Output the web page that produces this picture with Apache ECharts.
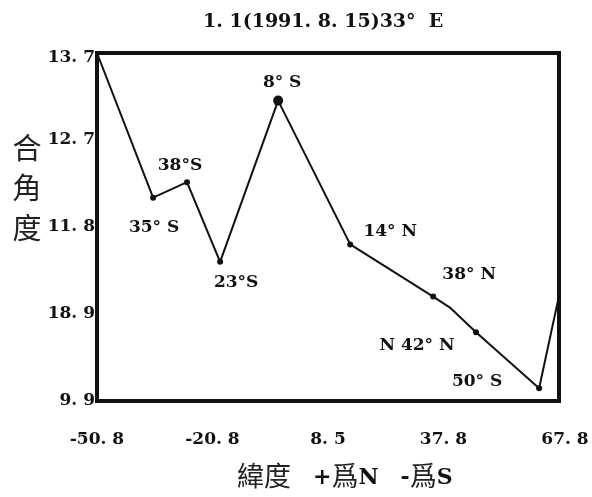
<!DOCTYPE html>
<html>
<head>
<meta charset="utf-8">
<script src="https://cdn.jsdelivr.net/npm/echarts@6/dist/echarts.min.js"></script>
<style>
  html, body { margin: 0; padding: 0; background: #fff; }
  #chart { width: 592px; height: 497px; }
</style>
</head>
<body>
<div id="chart"></div>
<script>
// Latitude (x) against closing angle (y) along the 33° E profile
const latitudes = [-50.8, -36.4, -27.7, -19.2, -4.3, 14.2, 35.5, 39.8, 46.5, 62.7, 67.6];
const angles    = [13.7, 12.12, 12.29, 11.42, 13.18, 11.61, 11.04, 10.92, 10.65, 10.04, 11.01];
const pointNames = ['', '35° S', '38°S', '23°S', '8° S', '14° N', '38° N', '', 'N 42° N', '50° S', ''];

const xTickLabels = ['-50. 8', '-20. 8', '8. 5', '37. 8', '67. 8'];
const yTickLabels = ['9. 9', '18. 9', '11. 8', '12. 7', '13. 7'];

const titleText = '1. 1(1991. 8. 15)33°  E';
const yName = ['合', '角', '度'];

const X_MIN = -50.8, X_MAX = 67.8;
const Y_MIN = 9.9, Y_MAX = 13.7;

// label placement around each marker (pixels)
const labelOffsets = [null, [1, 30], [-7, -17], [16, 21], [4, -18], [40, -13], [36, -22], null, [-59, 13], [-62, -7], null];
const bigMarker = '8° S';

function evenTicks(min, max, n) {
  const out = [];
  for (let i = 0; i < n; i++) out.push(+(min + (max - min) * i / (n - 1)).toFixed(4));
  return out;
}
const xTickValues = evenTicks(X_MIN, X_MAX, xTickLabels.length);
const yTickValues = evenTicks(Y_MIN, Y_MAX, yTickLabels.length);

function nearestIndex(values, v) {
  let best = 0;
  for (let i = 1; i < values.length; i++) {
    if (Math.abs(values[i] - v) < Math.abs(values[best] - v)) best = i;
  }
  return best;
}

const SERIF = 'DejaVu Serif';
const CJK = 'Noto Sans CJK TC';

const tickFont = {
  color: '#111',
  fontFamily: SERIF,
  fontWeight: 'bold',
  fontSize: 17
};

const seriesData = latitudes.map((x, i) => {
  const name = pointNames[i];
  const item = { value: [x, angles[i]] };
  if (!name) {
    item.symbolSize = 0;
    item.label = { show: false };
  } else {
    item.symbolSize = name === bigMarker ? 10 : 6;
    item.label = Object.assign({
      show: true,
      position: 'inside',
      offset: labelOffsets[i],
      formatter: name
    }, tickFont);
  }
  return item;
});

const chart = echarts.init(document.getElementById('chart'), null, { renderer: 'canvas' });

chart.setOption({
  backgroundColor: '#fff',
  animation: false,
  grid: {
    left: 97, top: 53, width: 462, height: 348,
    show: true,
    borderColor: '#111',
    borderWidth: 4,
    backgroundColor: 'transparent'
  },
  xAxis: {
    type: 'value',
    min: X_MIN,
    max: X_MAX,
    axisLine: { show: false },
    axisTick: { show: false },
    splitLine: { show: false },
    axisLabel: Object.assign({
      customValues: xTickValues,
      margin: 30,
      formatter: v => {
        const i = nearestIndex(xTickValues, v);
        return i === xTickLabels.length - 1 ? '{end|' + xTickLabels[i] + '}' : xTickLabels[i];
      },
      rich: { end: Object.assign({ padding: [0, 0, 0, 12] }, tickFont) }
    }, tickFont)
  },
  yAxis: {
    type: 'value',
    min: Y_MIN,
    max: Y_MAX,
    axisLine: { show: false },
    axisTick: { show: false },
    splitLine: { show: false },
    axisLabel: Object.assign({
      customValues: yTickValues,
      margin: 2,
      formatter: v => {
        const i = nearestIndex(yTickValues, v);
        return i === yTickLabels.length - 1 ? '{top|' + yTickLabels[i] + '}' : yTickLabels[i];
      },
      rich: { top: Object.assign({ padding: [10, 0, 0, 0] }, tickFont) }
    }, tickFont)
  },
  graphic: [
    {
      type: 'text',
      left: 203, top: 13,
      style: {
        text: titleText,
        fill: '#111',
        font: 'bold 19px "' + SERIF + '"'
      }
    },
    {
      type: 'text',
      x: 27, y: 188,
      style: {
        text: yName.join('\n'),
        fill: '#222',
        font: '29px "' + CJK + '"',
        lineHeight: 40,
        align: 'center',
        verticalAlign: 'middle'
      }
    },
    {
      type: 'text',
      left: 237, top: 462,
      style: {
        text: '{c|緯度}{g| }{l|+}{c|爲}{l|N}{g| }{l|-}{c|爲}{l|S}',
        rich: {
          c: { fontFamily: CJK, fontSize: 27, fill: '#222', verticalAlign: 'bottom' },
          l: { fontFamily: SERIF, fontWeight: 'bold', fontSize: 22, fill: '#111', verticalAlign: 'bottom' },
          g: { width: 22, fontSize: 22 }
        }
      }
    }
  ],
  series: [{
    type: 'line',
    data: seriesData,
    symbol: 'circle',
    showSymbol: true,
    itemStyle: { color: '#111' },
    lineStyle: { color: '#111', width: 2 },
    clip: false,
    z: 3
  }]
});
</script>
</body>
</html>
